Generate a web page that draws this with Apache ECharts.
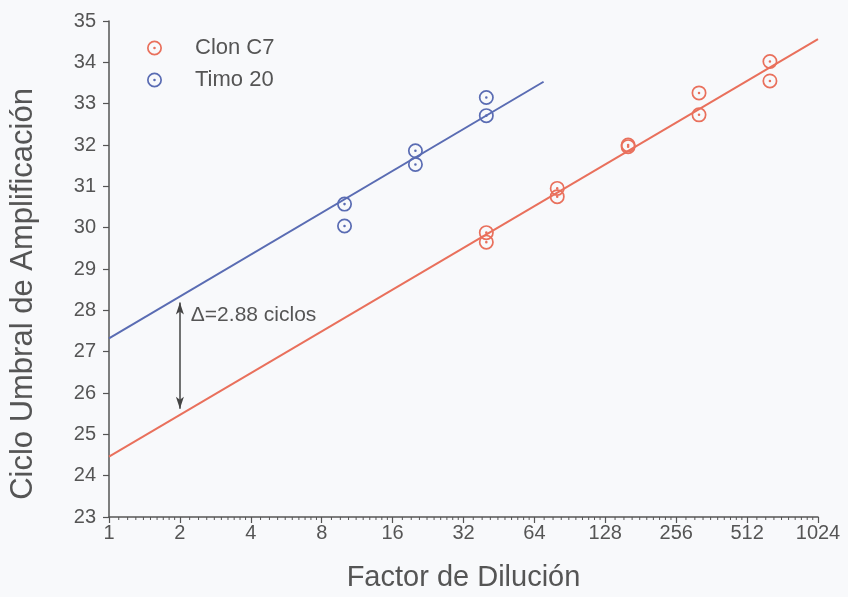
<!DOCTYPE html>
<html>
<head>
<meta charset="utf-8">
<style>
  html, body { margin: 0; padding: 0; background: #f8f9fb; }
  #chart { width: 848px; height: 597px; }
</style>
<script src="https://cdn.jsdelivr.net/npm/echarts@6/dist/echarts.min.js"></script>
</head>
<body>
<div id="chart"></div>
<script>
// Dilution factors and measured threshold cycles (duplicates per dilution)
const cloneDilutions = [40, 40, 80, 80, 160, 160, 320, 320, 640, 640];
const cloneCt        = [29.88, 29.65, 30.95, 30.75, 32.00, 31.96, 33.26, 32.73, 34.02, 33.55];
const thymusDilutions = [10, 10, 20, 20, 40, 40];
const thymusCt        = [30.57, 30.04, 31.86, 31.53, 33.15, 32.71];

// Regression lines (endpoints in dilution / cycle units)
const cloneFitX  = [1, 1024];
const cloneFitY  = [24.46, 34.56];
const thymusFitX = [1, 70];
const thymusFitY = [27.32, 33.53];

// Shift between the two curves
const deltaCycles = 2.88;
const deltaAtX = 2;
const deltaTop = 28.19;
const deltaBottom = 25.62;

const xTickLabels = [1, 2, 4, 8, 16, 32, 64, 128, 256, 512, 1024];
const Y_MIN = 23, Y_MAX = 35;

// Minor tick positions between powers of two (1.1x ... 1.9x of each octave)
const minorTicks = [];
for (let n = 0; n < 10; n++) {
  const base = Math.pow(2, n);
  for (let k = 1; k <= 9; k++) minorTicks.push([base * (1 + k / 10), Y_MIN]);
}

const RED = '#e9705c';
const BLUE = '#5a6cb3';
const AXIS = '#555555';
const FONT = '"Liberation Sans", Arial, sans-serif';

// Ring with a centre dot
const ringDot = 'path://M0,-7A7,7 0 1,1 0,7A7,7 0 1,1 0,-7Z' +
  'M0,-5.4A5.4,5.4 0 1,0 0,5.4A5.4,5.4 0 1,0 0,-5.4Z' +
  'M0,-1.2A1.2,1.2 0 1,1 0,1.2A1.2,1.2 0 1,1 0,-1.2Z';

const zip = (xs, ys) => xs.map((x, i) => [x, ys[i]]);

const chart = echarts.init(document.getElementById('chart'), null, { renderer: 'canvas' });

chart.setOption({
  backgroundColor: '#f8f9fb',
  animation: false,
  textStyle: { fontFamily: FONT },
  grid: { left: 109, right: 30, top: 21, bottom: 76, containLabel: false },
  legend: {
    data: ['Clon C7', 'Timo 20'],
    orient: 'vertical',
    left: 147,
    top: 37,
    padding: 0,
    itemWidth: 15,
    itemHeight: 15,
    itemGap: 10,
    textStyle: { fontSize: 22, color: AXIS, fontFamily: FONT, padding: [0, 0, 0, 28] }
  },
  xAxis: {
    type: 'log',
    logBase: 2,
    min: 1,
    max: 1024,
    interval: 1,
    name: 'Factor de Dilución',
    nameLocation: 'middle',
    nameGap: 46,
    nameTextStyle: { fontSize: 29, color: AXIS, fontFamily: FONT },
    axisLine: { show: true, lineStyle: { color: AXIS, width: 1.5 } },
    axisTick: { show: true, length: 6, lineStyle: { color: AXIS, width: 1.2 } },
    axisLabel: {
      fontSize: 20, color: AXIS, margin: 6, fontFamily: FONT,
      formatter: v => {
        const r = Math.round(v);
        return xTickLabels.indexOf(r) >= 0 ? String(r) : '';
      }
    },
    splitLine: { show: false }
  },
  yAxis: {
    type: 'value',
    min: Y_MIN,
    max: Y_MAX,
    interval: 1,
    name: 'Ciclo Umbral de Amplificación',
    nameLocation: 'middle',
    nameRotate: 90,
    nameGap: 70,
    nameTextStyle: { fontSize: 31, color: AXIS, fontFamily: FONT, padding: [0, 50, 0, 0] },
    axisLine: { show: true, lineStyle: { color: AXIS, width: 1.5 } },
    axisTick: { show: true, length: 6, lineStyle: { color: AXIS, width: 1.2 } },
    axisLabel: { fontSize: 20, color: AXIS, margin: 13, fontFamily: FONT },
    splitLine: { show: false }
  },
  series: [
    {
      name: 'Clon C7 ajuste',
      type: 'line',
      data: zip(cloneFitX, cloneFitY),
      showSymbol: false,
      silent: true,
      lineStyle: { color: RED, width: 2 },
      z: 2
    },
    {
      name: 'Timo 20 ajuste',
      type: 'line',
      data: zip(thymusFitX, thymusFitY),
      showSymbol: false,
      silent: true,
      lineStyle: { color: BLUE, width: 2 },
      z: 2
    },
    {
      name: 'Clon C7',
      type: 'scatter',
      data: zip(cloneDilutions, cloneCt),
      symbol: ringDot,
      symbolSize: 15,
      itemStyle: { color: RED, opacity: 1 },
      z: 3
    },
    {
      name: 'Timo 20',
      type: 'scatter',
      data: zip(thymusDilutions, thymusCt),
      symbol: ringDot,
      symbolSize: 15,
      itemStyle: { color: BLUE, opacity: 1 },
      z: 3
    },
    {
      name: 'delta',
      type: 'line',
      data: [],
      silent: true,
      markLine: {
        silent: true,
        symbol: ['arrow', 'arrow'],
        symbolSize: [6, 12],
        label: { show: false },
        lineStyle: { color: '#444', width: 1.5, type: 'solid' },
        data: [[{ coord: [deltaAtX, deltaTop] }, { coord: [deltaAtX, deltaBottom] }]]
      },
      markPoint: {
        silent: true,
        symbol: 'circle',
        symbolSize: 0,
        label: {
          show: true,
          position: 'right',
          distance: 4,
          fontSize: 21,
          color: AXIS,
          fontFamily: FONT,
          formatter: () => 'Δ=' + deltaCycles.toFixed(2) + ' ciclos'
        },
        data: [{ coord: [2.14, 27.88] }]
      }
    },
    {
      name: 'minor ticks',
      type: 'custom',
      silent: true,
      clip: false,
      data: minorTicks,
      renderItem: (params, api) => {
        const p = api.coord([api.value(0), api.value(1)]);
        return {
          type: 'line',
          shape: { x1: p[0], y1: p[1], x2: p[0], y2: p[1] + 3 },
          style: { stroke: AXIS, lineWidth: 1 }
        };
      },
      z: 1
    }
  ]
});
</script>
</body>
</html>
